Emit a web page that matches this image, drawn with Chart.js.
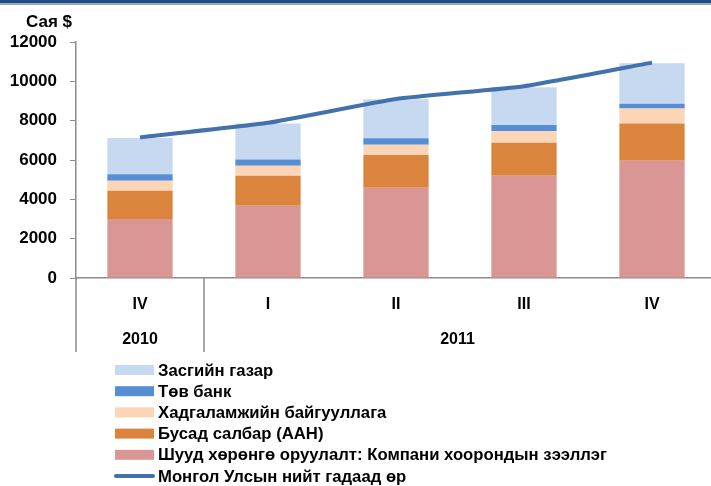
<!DOCTYPE html>
<html>
<head>
<meta charset="utf-8">
<script src="https://cdn.jsdelivr.net/npm/chart.js@4"></script>
<style>
  html, body { margin: 0; padding: 0; background: #fff; overflow: hidden; }
  .topbar { position: absolute; left: 0; top: 0; width: 711px; height: 3px; background: #1F4A8C; border-bottom: 2px solid #A6A6A6; }
  #wrap { position: absolute; left: 0; top: 0; width: 716px; height: 486px; }
</style>
</head>
<body>
<div id="wrap"><canvas id="debtChart" width="716" height="486"></canvas></div>
<div class="topbar"></div>
<script>
const quarters = ['IV', 'I', 'II', 'III', 'IV']
const years = ['2010', '2011']
const yearSpans = [1, 4]

// сая ам.доллар
const fdiLoans = [3000, 3670, 4590, 5200, 5960]
const otherSectors = [1435, 1525, 1660, 1675, 1900]
const depositTaking = [510, 510, 525, 595, 760]
const centralBank = [325, 325, 325, 305, 235]
const government = [1845, 1830, 1995, 1930, 2070]
const totalDebt = [7150, 7890, 9100, 9750, 10950]

const fontFam = "'Liberation Sans', Arial, sans-serif"
const legendOrder = [4, 3, 2, 1, 0, 5]

const extrasPlugin = {
  id: 'extras',
  afterDraw(chart) {
    const ctx = chart.ctx
    const x = chart.scales.x
    const area = chart.chartArea
    ctx.save()
    // units label
    ctx.font = 'bold 17px ' + fontFam
    ctx.fillStyle = '#000'
    ctx.textAlign = 'right'
    ctx.textBaseline = 'middle'
    ctx.fillText('Сая $', area.left - 4, 22)

    // year row + separators
    ctx.font = 'bold 16px ' + fontFam
    ctx.strokeStyle = '#8C8C8C'
    ctx.lineWidth = 1.5
    const step = x.getPixelForValue(1) - x.getPixelForValue(0)
    let start = 0
    ctx.textAlign = 'center'
    yearSpans.forEach((span, i) => {
      const left = x.getPixelForValue(start) - step / 2
      const right = x.getPixelForValue(start + span - 1) + step / 2
      ctx.beginPath()
      ctx.moveTo(left, area.bottom)
      ctx.lineTo(left, 352)
      ctx.stroke()
      const mid = i === yearSpans.length - 1 ? (left + 711) / 2 : (left + right) / 2
      ctx.fillText(years[i], mid, 340)
      start += span
    })

    // legend, one item per row
    ctx.textAlign = 'left'
    ctx.font = 'bold 16.7px ' + fontFam
    legendOrder.forEach((di, row) => {
      const ds = chart.data.datasets[di]
      const cy = 370 + row * 21.2
      if (ds.type === 'line') {
        ctx.strokeStyle = ds.borderColor
        ctx.lineWidth = 4
        ctx.lineCap = 'round'
        ctx.beginPath()
        ctx.moveTo(116, cy)
        ctx.lineTo(153, cy)
        ctx.stroke()
      } else {
        ctx.fillStyle = ds.backgroundColor
        ctx.fillRect(115, cy - 5, 39, 10)
      }
      ctx.fillStyle = '#000'
      ctx.fillText(ds.label, 158, cy + 1)
    })
    ctx.restore()
  },
}

new Chart(document.getElementById('debtChart'), {
  type: 'bar',
  data: {
    labels: quarters,
    datasets: [
      { label: 'Шууд хөрөнгө оруулалт: Компани хоорондын зээллэг', data: fdiLoans, backgroundColor: '#D99694', order: 1 },
      { label: 'Бусад салбар (ААН)', data: otherSectors, backgroundColor: '#DB843D', order: 1 },
      { label: 'Хадгаламжийн байгууллага', data: depositTaking, backgroundColor: '#FBD5B5', order: 1 },
      { label: 'Төв банк', data: centralBank, backgroundColor: '#558ED5', order: 1 },
      { label: 'Засгийн газар', data: government, backgroundColor: '#C6D9F1', order: 1 },
      {
        type: 'line',
        label: 'Монгол Улсын нийт гадаад өр',
        data: totalDebt,
        borderColor: '#4271AB',
        borderWidth: 4,
        pointRadius: 0,
        tension: 0.15,
        stack: 'line',
        order: 0,
      },
    ],
  },
  options: {
    responsive: false,
    animation: false,
    layout: { padding: { top: 42, left: 0, right: 0, bottom: 0 } },
    datasets: { bar: { categoryPercentage: 1, barPercentage: 0.51 } },
    plugins: {
      legend: { display: false },
      tooltip: { enabled: false },
    },
    scales: {
      x: {
        stacked: true,
        afterFit: (s) => { s.height = 208 },
        grid: { display: false },
        border: { color: '#8C8C8C', width: 1.5 },
        ticks: { color: '#000', font: { family: fontFam, size: 16, weight: 'bold' }, padding: 9 },
      },
      y: {
        stacked: true,
        min: 0,
        max: 12000,
        afterFit: (s) => { s.width = 76 },
        grid: { drawOnChartArea: false, tickLength: 6, color: '#8C8C8C' },
        border: { color: '#8C8C8C', width: 1.5 },
        ticks: {
          stepSize: 2000,
          color: '#000',
          font: { family: fontFam, size: 17, weight: 'bold' },
          padding: 13,
          callback: (v) => String(v),
        },
      },
    },
  },
  plugins: [extrasPlugin],
})
</script>
</body>
</html>
